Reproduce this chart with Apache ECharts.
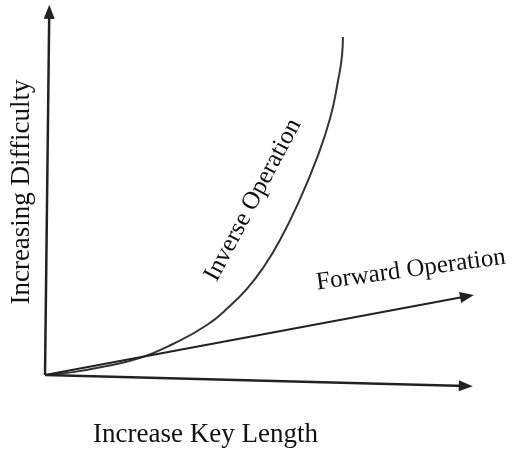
<!DOCTYPE html>
<html>
<head>
<meta charset="utf-8">
<script src="https://cdn.jsdelivr.net/npm/echarts@6/dist/echarts.min.js"></script>
<style>
  html, body { margin: 0; padding: 0; background: #fff; }
  #chart { width: 525px; height: 452px; }
</style>
</head>
<body>
<div id="chart"></div>
<script>
// key length (x) vs difficulty (y), arbitrary units 0..100
const inverseCurve = [
    [0, 0], [6.6, 0.8], [14.6, 2.5], [22.4, 4.7], [30.1, 8.5], [38.1, 13.7],
    [43.5, 18.9], [47.5, 23.6], [51.1, 29.0], [55.3, 37.0], [60.0, 48.2],
    [64.0, 59.5], [67.1, 70.4], [68.9, 80.3], [69.9, 87.7], [70.1, 92.6]
];
const forwardLine = [[0, 0], [99.3, 21.6]];
const xAxisArrow = [[0, 0], [99, -3]];
const yAxisArrow = [[0, 0], [1, 99.5]];

const labelXAxis = 'Increase Key Length';
const labelYAxis = 'Increasing Difficulty';
const labelInverse = 'Inverse Operation';
const labelForward = 'Forward Operation';

const font = '"Liberation Serif", "Times New Roman", serif';
const ink = '#222';

const chart = echarts.init(document.getElementById('chart'));

// an arrow drawn as a markLine so the head follows the line direction
function arrow(pts, width) {
    return {
        type: 'line',
        data: [],
        silent: true,
        markLine: {
            silent: true,
            symbol: ['none', 'triangle'],
            symbolSize: [11, 14],
            label: { show: false },
            lineStyle: { color: ink, width: width, type: 'solid' },
            data: [[{ coord: pts[0] }, { coord: pts[1] }]]
        }
    };
}

chart.setOption({
    animation: false,
    backgroundColor: '#fff',
    grid: { left: 45, right: 55, top: 10, bottom: 66 },
    xAxis: { type: 'value', min: 0, max: 100, show: false },
    yAxis: { type: 'value', min: -3, max: 100, show: false },
    series: [
        arrow(yAxisArrow, 2.5),
        arrow(xAxisArrow, 2.5),
        arrow(forwardLine, 2),
        {
            type: 'line',
            data: inverseCurve,
            smooth: 0.5,
            showSymbol: false,
            silent: true,
            lineStyle: { color: '#333', width: 2 }
        }
    ],
    graphic: [
        {
            type: 'text', left: 93, top: 421,
            style: { text: labelXAxis, font: '27px ' + font, fill: '#111' }
        },
        {
            type: 'text', x: 22, y: 192, rotation: Math.PI / 2,
            style: { text: labelYAxis, font: '27px ' + font, fill: '#111', align: 'center', verticalAlign: 'middle' }
        },
        {
            type: 'text', x: 253, y: 200, rotation: 62 * Math.PI / 180,
            style: { text: labelInverse, font: '25px ' + font, fill: '#111', align: 'center', verticalAlign: 'middle' }
        },
        {
            type: 'text', x: 411, y: 270, rotation: 7.8 * Math.PI / 180,
            style: { text: labelForward, font: '25px ' + font, fill: '#111', align: 'center', verticalAlign: 'middle' }
        }
    ]
});
</script>
</body>
</html>
